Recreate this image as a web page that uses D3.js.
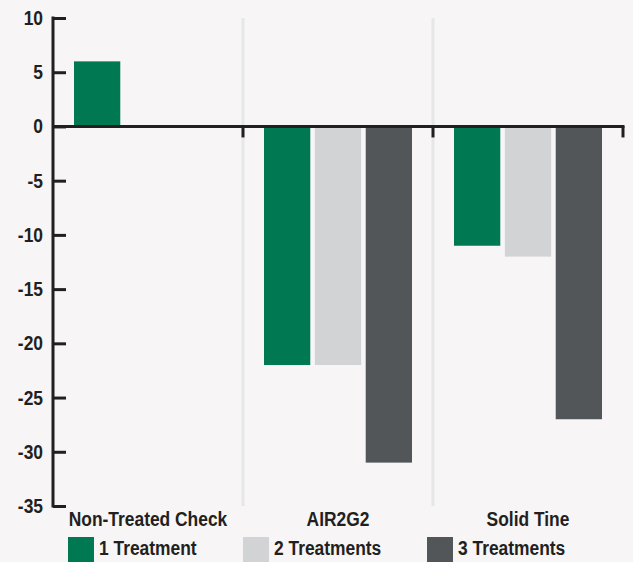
<!DOCTYPE html>
<html>
<head>
<meta charset="utf-8">
<script src="https://cdn.jsdelivr.net/npm/d3@7"></script>
<style>
  body { margin: 0; background: #f7f5f6; }
  svg { display: block; font-family: "Liberation Sans", Arial, sans-serif; font-weight: bold; }
</style>
</head>
<body>
<div id="chart"></div>
<script>
// data
var categories = ["Non-Treated Check", "AIR2G2", "Solid Tine"];
var series = ["1 Treatment", "2 Treatments", "3 Treatments"];
var oneTreatment = [6, -22, -11];
var twoTreatments = [0, -22, -12];
var threeTreatments = [0, -31, -27];
var yTicks = [10, 5, 0, -5, -10, -15, -20, -25, -30, -35];
var colours = ["#007852", "#d1d3d4", "#525659"];

var width = 633, height = 562;
var margin = {top: 18, right: 10, bottom: 56, left: 53};
var squeeze = 0.87; // condensed look for the text

var svg = d3.select("#chart").append("svg")
    .attr("width", width).attr("height", height);

svg.append("rect").attr("width", width).attr("height", height).attr("fill", "#f7f5f6");

var x = d3.scaleBand()
    .domain(categories)
    .range([margin.left, margin.left + 570])
    .paddingInner(0).paddingOuter(0);

var xSub = d3.scaleBand()
    .domain(series)
    .range([21, x.bandwidth() - 21])
    .paddingInner(0.09);

var y = d3.scaleLinear()
    .domain([-35, 10])
    .range([height - margin.bottom, margin.top]);

var values = [oneTreatment, twoTreatments, threeTreatments];

function label(sel, px, py, anchor) {
    return sel.append("text")
        .attr("transform", "translate(" + px + "," + py + ") scale(" + squeeze + ",1)")
        .attr("text-anchor", anchor)
        .attr("font-size", 20)
        .attr("fill", "#231f20");
}

// light vertical separators between groups
svg.selectAll(".sep")
    .data(categories.slice(1))
    .enter().append("line")
    .attr("class", "sep")
    .attr("x1", function(d) { return x(d); })
    .attr("x2", function(d) { return x(d); })
    .attr("y1", y(10))
    .attr("y2", y(-35))
    .attr("stroke", "#e6e7e8")
    .attr("stroke-width", 3);

// bars
var groups = svg.selectAll(".grp")
    .data(categories)
    .enter().append("g")
    .attr("class", "grp")
    .attr("transform", function(d) { return "translate(" + x(d) + ",0)"; });

groups.selectAll("rect")
    .data(function(d, i) {
        return series.map(function(s, j) { return {s: s, v: values[j][i], c: colours[j]}; });
    })
    .enter().append("rect")
    .attr("x", function(d) { return xSub(d.s); })
    .attr("width", xSub.bandwidth())
    .attr("y", function(d) { return y(Math.max(0, d.v)); })
    .attr("height", function(d) { return Math.abs(y(d.v) - y(0)); })
    .attr("fill", function(d) { return d.c; });

// y axis
var yAxis = svg.append("g")
    .attr("transform", "translate(" + margin.left + ",0)")
    .call(d3.axisRight(y).tickValues(yTicks).tickSize(13).tickFormat(""));
yAxis.select(".domain").remove();
yAxis.selectAll(".tick line").attr("stroke", "#231f20").attr("stroke-width", 3);

svg.append("line")
    .attr("x1", margin.left).attr("x2", margin.left)
    .attr("y1", y(10) - 1.5).attr("y2", y(-35) + 1.5)
    .attr("stroke", "#231f20").attr("stroke-width", 3);

yTicks.forEach(function(t) {
    label(svg, margin.left - 10, y(t) + 7, "end").text(t);
});

// zero line with group ticks
var boundaries = categories.map(function(c) { return x(c) + x.bandwidth(); });
svg.append("line")
    .attr("x1", margin.left).attr("x2", x.range()[1] + 1.5)
    .attr("y1", y(0)).attr("y2", y(0))
    .attr("stroke", "#231f20").attr("stroke-width", 3);
svg.selectAll(".xtick")
    .data(boundaries)
    .enter().append("line")
    .attr("class", "xtick")
    .attr("x1", function(d) { return d; })
    .attr("x2", function(d) { return d; })
    .attr("y1", y(0))
    .attr("y2", y(0) + 11)
    .attr("stroke", "#231f20").attr("stroke-width", 3);

// category labels
categories.forEach(function(c) {
    label(svg, x(c) + x.bandwidth() / 2, y(-35) + 20, "middle").text(c);
});

// legend
var legendX = [68, 243, 427];
series.forEach(function(s, i) {
    svg.append("rect")
        .attr("x", legendX[i]).attr("y", 537)
        .attr("width", 26).attr("height", 25)
        .attr("fill", colours[i]);
    label(svg, legendX[i] + 31, 555, "start").text(s);
});
</script>
</body>
</html>
